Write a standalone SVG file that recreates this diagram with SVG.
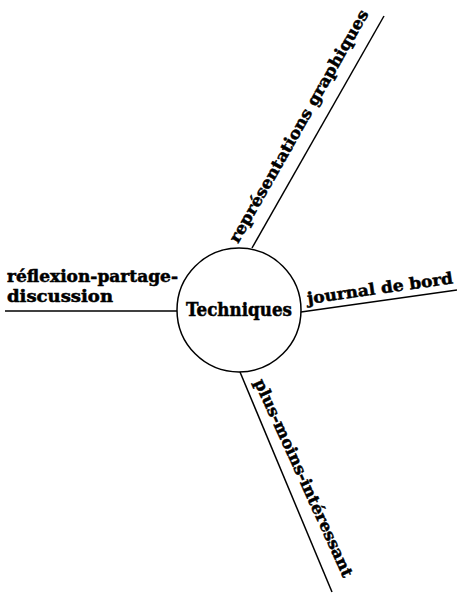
<svg xmlns="http://www.w3.org/2000/svg" width="457" height="597" viewBox="0 0 457 597">
<style>
.t{font-family:"DejaVu Serif","Liberation Serif",serif;font-weight:bold;font-size:16px;fill:#000;stroke:#000;stroke-width:0.5}
.c{stroke:#000;stroke-width:1.5;fill:none}
</style>
<rect width="457" height="597" fill="#fff"/>
<g id="connectors">
<line class="c" x1="252" y1="248" x2="384" y2="16"/>
<line class="c" x1="5" y1="311" x2="177" y2="311"/>
<line class="c" x1="301" y1="312" x2="457" y2="290"/>
<line class="c" x1="240" y1="372" x2="332" y2="592"/>
</g>
<g id="center">
<circle class="c" cx="239" cy="310" r="62"/>
<text class="t" x="186" y="316" style="font-size:18px" textLength="106" lengthAdjust="spacingAndGlyphs">Techniques</text>
</g>
<g id="reflexion">
<text class="t" x="7" y="282" textLength="171" lengthAdjust="spacingAndGlyphs">réflexion-partage-</text>
<text class="t" x="7" y="302" textLength="106" lengthAdjust="spacingAndGlyphs">discussion</text>
</g>
<g id="journal">
<text class="t" transform="translate(308,304) rotate(-8.1)" textLength="147" lengthAdjust="spacingAndGlyphs">journal de bord</text>
</g>
<g id="representations">
<text class="t" transform="translate(238,244) rotate(-60.4)" textLength="265" lengthAdjust="spacingAndGlyphs">représentations graphiques</text>
</g>
<g id="plusmoins">
<text class="t" transform="translate(254,382) rotate(65.5)" textLength="216" lengthAdjust="spacingAndGlyphs">plus-moins-intéressant</text>
</g>
</svg>
